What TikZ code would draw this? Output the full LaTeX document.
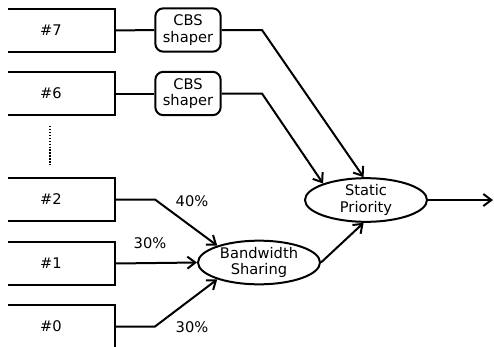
\documentclass[tikz,border=0pt]{standalone}
\usepackage{fontspec}
\setmainfont{DejaVu Sans}
\usetikzlibrary{arrows.meta,shapes.geometric}

\tikzset{
  txt/.style={font=\fontsize{11pt}{12.5pt}\selectfont},
  wire/.style={line width=1.5pt, line join=miter},
  arr/.style={wire, -{Straight Barb[length=6pt,width=9pt]}},
  qbox/.style={txt, minimum width=96pt, minimum height=32.25pt, inner sep=0pt},
  shaper/.style={txt, draw, line width=1.5pt, rounded corners=6pt, minimum width=49pt,
    minimum height=32.5pt, inner sep=0pt, align=center},
  sched/.style={txt, draw, ellipse, line width=1.5pt, minimum width=91.5pt,
    minimum height=32.5pt, inner sep=0pt, align=center},
  pct/.style={txt, inner sep=0pt},
}

\begin{document}
\begin{tikzpicture}[x=0.75pt, y=-0.75pt]
  \useasboundingbox (0,0) rectangle (494,347);

  % queues: boxes open on the left side
  \foreach \n/\y in {7/30.5, 6/93.5, 2/199.5, 1/263.5, 0/326.5} {
    \node[qbox] (q\n) at (51,\y) {\#\n};
    \draw[wire] ([xshift=15.75pt]q\n.north west) -- (q\n.north east)
      -- (q\n.south east) -- ([xshift=15.75pt]q\n.south west);
  }

  % omitted queues
  \coordinate (dtop) at (50,126);
  \coordinate (dbot) at (50,165);
  \draw[line width=1.6pt, dash pattern=on 1.1pt off 1.1pt] (dtop) -- (dbot);

  % credit-based shapers
  \node[shaper] (s7) at (188,30) {CBS\\shaper};
  \node[shaper] (s6) at (188,93.5) {CBS\\shaper};

  % schedulers
  \node[sched] (sp) at (366,200) {Static\\Priority};
  \node[sched] (bw) at (259,262.5) {Bandwidth\\Sharing};

  % shaped queues into the strict priority scheduler
  \draw[wire] (q7.east) -- (s7.west);
  \draw[wire] (q6.east) -- (s6.west);
  \draw[arr] (s7.east) -- (262,30) -- (sp.96);
  \draw[arr] (s6.east) -- (262,93.5) -- (sp.159);

  % weighted queues into the bandwidth sharing scheduler
  \draw[arr] (q2.east) -- (155,199.5) -- (bw.158);
  \draw[arr] (q1.east) -- (bw.west);
  \draw[arr] (q0.east) -- (155,326.5) -- (bw.202);

  \node[pct] (p2) at (192,201) {40\%};
  \node[pct] (p1) at (150,243) {30\%};
  \node[pct] (p0) at (192,327) {30\%};

  % bandwidth sharing output and scheduler output
  \draw[arr] (bw.east) -- (sp.264);
  \coordinate (out) at (493,200);
  \draw[arr] (sp.east) -- (out);
\end{tikzpicture}
\end{document}
